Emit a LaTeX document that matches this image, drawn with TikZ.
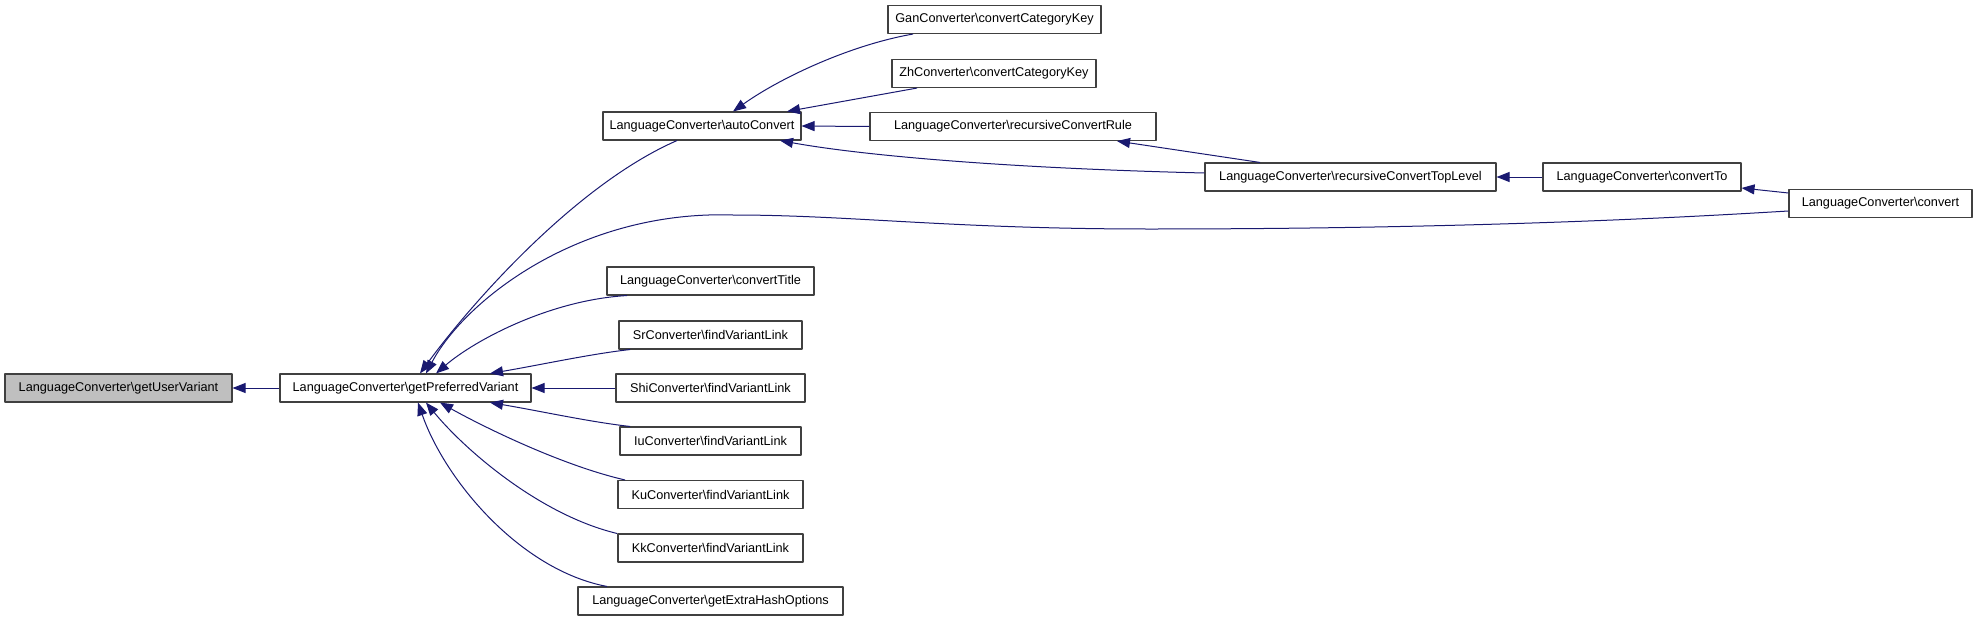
\documentclass[tikz,border=0pt]{standalone}
\usepackage{fontspec}
\setmainfont{Liberation Sans}
\usetikzlibrary{arrows.meta}
\definecolor{callblue}{HTML}{191970}
\tikzset{
  fn/.style={draw=black!75,line width=1.1pt,minimum height=28pt,inner sep=0pt,
    font=\fontsize{12.7}{15}\selectfont},
  call/.style={draw=callblue,line width=1pt,
    {Triangle[length=13pt,width=10pt,fill=callblue]}-},
}
\begin{document}
\begin{tikzpicture}[x=1pt,y=-1pt,line join=round]
\useasboundingbox (0,0) rectangle (1979,621);
\def\bs{\textbackslash}
% root and its direct caller
\node[fn,fill=black!25,minimum width=227pt] (userVar) at (118.5,388) {LanguageConverter\bs getUserVariant};
\node[fn,minimum width=251pt] (prefVar) at (405.5,388) {LanguageConverter\bs getPreferredVariant};
% callers of getPreferredVariant
\node[fn,minimum width=198pt] (autoConv) at (702,126) {LanguageConverter\bs autoConvert};
\node[fn,minimum width=207pt] (convTitle) at (710.5,281) {LanguageConverter\bs convertTitle};
\node[fn,minimum width=183pt] (srLink) at (710.5,335) {SrConverter\bs findVariantLink};
\node[fn,minimum width=189pt] (shiLink) at (710.5,388) {ShiConverter\bs findVariantLink};
\node[fn,minimum width=181pt] (iuLink) at (710.5,441) {IuConverter\bs findVariantLink};
\node[fn,minimum width=185pt] (kuLink) at (710.5,494.5) {KuConverter\bs findVariantLink};
\node[fn,minimum width=185pt] (kkLink) at (710.5,548) {KkConverter\bs findVariantLink};
\node[fn,minimum width=265pt] (extraHash) at (710.5,601) {LanguageConverter\bs getExtraHashOptions};
% callers of autoConvert
\node[fn,minimum width=213pt] (ganKey) at (994.5,19.5) {GanConverter\bs convertCategoryKey};
\node[fn,minimum width=204pt] (zhKey) at (994,73.5) {ZhConverter\bs convertCategoryKey};
\node[fn,minimum width=286pt] (recRule) at (1013,126.5) {LanguageConverter\bs recursiveConvertRule};
\node[fn,minimum width=291pt] (topLevel) at (1350.5,177) {LanguageConverter\bs recursiveConvertTopLevel};
\node[fn,minimum width=198pt] (convTo) at (1642,177) {LanguageConverter\bs convertTo};
\node[fn,minimum width=183pt] (convert) at (1880.5,203.5) {LanguageConverter\bs convert};
% call edges
\draw[call] (userVar.east) -- (prefVar.west);
\draw[call] ([xshift=14.5pt]prefVar.north) .. controls (470,305) and (575,185) .. ([xshift=-25pt]autoConv.south);
\draw[call] ([xshift=20.5pt]prefVar.north) .. controls (465,300) and (580,210) .. (733,215)
  .. controls (850,215) and (950,229) .. (1150,229) .. controls (1500,229) and (1720,215) .. ([yshift=-7.5pt]convert.west);
\draw[call] ([xshift=30.5pt]prefVar.north) .. controls (475,340) and (550,300) .. ([xshift=-83.5pt]convTitle.south);
\draw[call] ([xshift=84.5pt]prefVar.north) .. controls (540,365) and (590,354) .. ([xshift=-80.5pt]srLink.south);
\draw[call] (prefVar.east) -- (shiLink.west);
\draw[call] ([xshift=84.5pt]prefVar.south) .. controls (540,411) and (590,422) .. ([xshift=-80.5pt]iuLink.north);
\draw[call] ([xshift=34.5pt]prefVar.south) .. controls (480,425) and (560,465) .. ([xshift=-85.5pt]kuLink.north);
\draw[call] ([xshift=20.5pt]prefVar.south) .. controls (465,450) and (540,515) .. ([xshift=-93.5pt]kkLink.north);
\draw[call] ([xshift=12.5pt]prefVar.south) .. controls (445,480) and (520,570) .. ([xshift=-103.5pt]extraHash.north);
\draw[call] ([xshift=31pt]autoConv.north) .. controls (780,78) and (850,45) .. ([xshift=-81.5pt]ganKey.south);
\draw[call] ([xshift=85pt]autoConv.north) -- ([xshift=-77pt]zhKey.south);
\draw[call] (autoConv.east) -- (recRule.west);
\draw[call] ([xshift=78pt]autoConv.south) .. controls (860,155) and (1000,168) .. ([yshift=4pt]topLevel.west);
\draw[call] ([xshift=104pt]recRule.south) -- ([xshift=-90.5pt]topLevel.north);
\draw[call] (topLevel.east) -- (convTo.west);
\draw[call] ([yshift=-11pt]convTo.east) -- ([yshift=10.5pt]convert.west);
\end{tikzpicture}
\end{document}
